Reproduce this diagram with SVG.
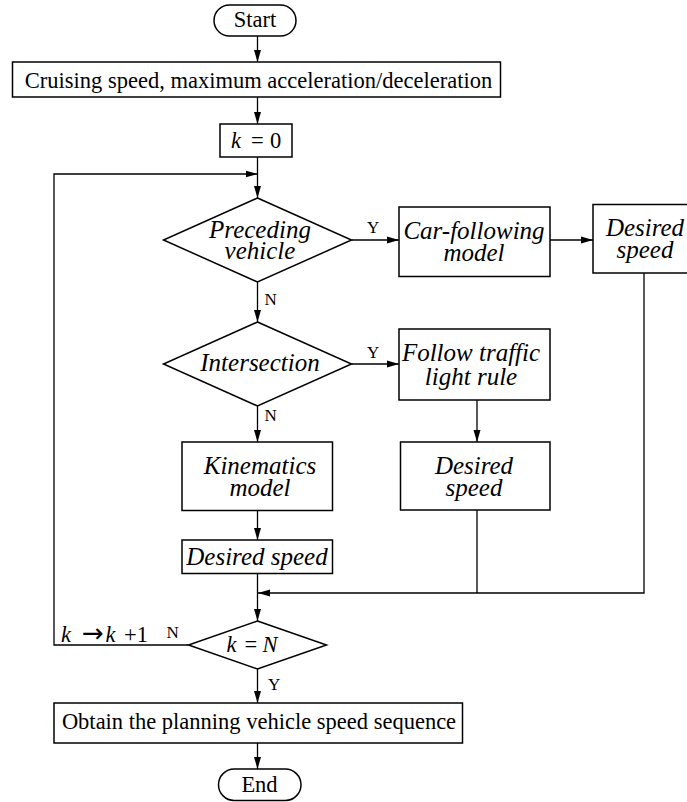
<svg xmlns="http://www.w3.org/2000/svg" width="687" height="802" viewBox="0 0 687 802">
<style>
.box{fill:#fff;stroke:#000;stroke-width:1.5}
.ln{fill:none;stroke:#000;stroke-width:1.3}
.t{font-family:"Liberation Serif","DejaVu Serif",serif;font-size:22.5px;fill:#000}
.it{font-family:"Liberation Serif","DejaVu Serif",serif;font-size:25px;font-style:italic;fill:#000;text-anchor:middle}
.c{text-anchor:middle}
.lab{font-family:"Liberation Serif","DejaVu Serif",serif;font-size:17px;fill:#000}
.i{font-style:italic}
</style>
<defs>
<marker id="ah" markerUnits="userSpaceOnUse" markerWidth="12" markerHeight="8" refX="12" refY="4" orient="auto">
<path d="M0,0.5 L12,4 L0,7.5 z" fill="#000"/>
</marker>
</defs>
<rect width="687" height="802" fill="#fff"/>
<g id="connectors">
<path class="ln" d="M257.5,36 V62" marker-end="url(#ah)"/>
<path class="ln" d="M257.5,97 V124" marker-end="url(#ah)"/>
<path class="ln" d="M257.5,157 V198" marker-end="url(#ah)"/>
<path class="ln" d="M188.5,645 H54 V174 H257.5" marker-end="url(#ah)"/>
<path class="ln" d="M351.5,240 H399" marker-end="url(#ah)"/>
<path class="ln" d="M550,240 H593" marker-end="url(#ah)"/>
<path class="ln" d="M257.5,282 V322" marker-end="url(#ah)"/>
<path class="ln" d="M351.5,364 H399" marker-end="url(#ah)"/>
<path class="ln" d="M477,400 V442" marker-end="url(#ah)"/>
<path class="ln" d="M257.5,406 V442" marker-end="url(#ah)"/>
<path class="ln" d="M257.5,511 V540" marker-end="url(#ah)"/>
<path class="ln" d="M257.5,573 V621" marker-end="url(#ah)"/>
<path class="ln" d="M644,273 V593 H258" marker-end="url(#ah)"/>
<path class="ln" d="M477,510 V593"/>
<path class="ln" d="M257.5,669 V703" marker-end="url(#ah)"/>
<path class="ln" d="M257.5,743 V769" marker-end="url(#ah)"/>
</g>
<g id="start">
<rect class="box" x="214" y="5" width="82" height="31" rx="15.5"/>
<text class="t c" x="255" y="27">Start</text>
</g>
<g id="params">
<rect class="box" x="12.5" y="62" width="488" height="35"/>
<text class="t c" x="258.5" y="88">Cruising speed, maximum acceleration/deceleration</text>
</g>
<g id="init">
<rect class="box" x="220" y="124" width="72" height="33"/>
<text class="t" y="148.3" font-size="23"><tspan class="i" x="231">k</tspan><tspan x="251">=</tspan><tspan x="270">0</tspan></text>
</g>
<g id="preceding">
<polygon class="box" points="257.5,198 351.5,240 257.5,282 163.5,240"/>
<text class="it" x="260" y="238">Preceding</text>
<text class="it" x="260" y="258.5">vehicle</text>
</g>
<g id="carfollow">
<rect class="box" x="399" y="207" width="151" height="69.5"/>
<text class="it" x="474" y="239">Car-following</text>
<text class="it" x="474" y="261">model</text>
</g>
<g id="desired1">
<rect class="box" x="593" y="204.5" width="110" height="68.5"/>
<text class="it" x="645" y="236">Desired</text>
<text class="it" x="645" y="257.5">speed</text>
</g>
<g id="intersection">
<polygon class="box" points="257.5,322 351.5,364 257.5,406 163.5,364"/>
<text class="it" x="260" y="371">Intersection</text>
</g>
<g id="traffic">
<rect class="box" x="399" y="329" width="151" height="71"/>
<text class="it" x="471" y="361">Follow traffic</text>
<text class="it" x="471" y="384.5">light rule</text>
</g>
<g id="desired2">
<rect class="box" x="400.5" y="442" width="149.5" height="68"/>
<text class="it" x="474" y="473.5">Desired</text>
<text class="it" x="474" y="496">speed</text>
</g>
<g id="kinematics">
<rect class="box" x="182" y="442" width="150.5" height="68.5"/>
<text class="it" x="260" y="473.5">Kinematics</text>
<text class="it" x="260" y="496">model</text>
</g>
<g id="desired3">
<rect class="box" x="182" y="540" width="150.5" height="33.5"/>
<text class="it" x="257" y="565">Desired speed</text>
</g>
<g id="check">
<polygon class="box" points="257.5,621 326.5,645 257.5,669 188.5,645"/>
<text class="t" y="651.5" font-size="23"><tspan class="i" x="226.5">k</tspan><tspan x="244.5">=</tspan><tspan class="i" x="262.5">N</tspan></text>
</g>
<g id="labels">
<text class="lab" x="367" y="232.5">Y</text>
<text class="lab" x="264.5" y="304.7">N</text>
<text class="lab" x="367" y="357.8">Y</text>
<text class="lab" x="264.5" y="420.5">N</text>
<text class="lab" x="166.5" y="638.3">N</text>
<text class="lab" x="268" y="690">Y</text>
<text class="t" y="641.7" font-size="23"><tspan class="i" x="61">k</tspan><tspan x="82" style="font-family:'DejaVu Sans',sans-serif;font-size:26px">→</tspan><tspan class="i" x="105.5">k</tspan><tspan x="124">+1</tspan></text>
</g>
<g id="obtain">
<rect class="box" x="54" y="703" width="408.5" height="40"/>
<text class="t c" x="259" y="728.5">Obtain the planning vehicle speed sequence</text>
</g>
<g id="end">
<rect class="box" x="218.5" y="769" width="82.5" height="31.5" rx="15.75"/>
<text class="t c" x="259.5" y="791.5">End</text>
</g>
</svg>
